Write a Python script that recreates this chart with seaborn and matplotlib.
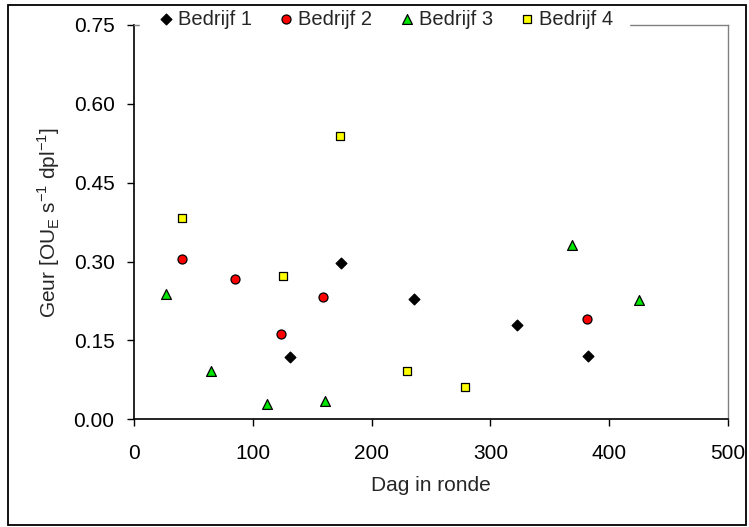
import matplotlib
matplotlib.use("Agg")
import matplotlib.pyplot as plt
from matplotlib.patches import Rectangle
import seaborn as sns
import pandas as pd

# values
dag_b1 = [131, 174, 236, 322, 382]
geur_b1 = [0.118, 0.297, 0.229, 0.179, 0.121]

dag_b2 = [40, 85, 124, 159, 381]
geur_b2 = [0.304, 0.267, 0.163, 0.232, 0.190]

dag_b3 = [27, 65, 112, 161, 369, 425]
geur_b3 = [0.239, 0.091, 0.030, 0.035, 0.332, 0.226]

dag_b4 = [40, 125, 173, 230, 279]
geur_b4 = [0.383, 0.273, 0.538, 0.091, 0.061]

bedrijven = ["Bedrijf 1", "Bedrijf 2", "Bedrijf 3", "Bedrijf 4"]

df = pd.concat([
    pd.DataFrame({"dag": dag_b1, "geur": geur_b1, "bedrijf": bedrijven[0]}),
    pd.DataFrame({"dag": dag_b2, "geur": geur_b2, "bedrijf": bedrijven[1]}),
    pd.DataFrame({"dag": dag_b3, "geur": geur_b3, "bedrijf": bedrijven[2]}),
    pd.DataFrame({"dag": dag_b4, "geur": geur_b4, "bedrijf": bedrijven[3]}),
], ignore_index=True)

sns.set_theme(style="ticks")
plt.rcParams["font.family"] = ["Liberation Sans", "DejaVu Sans"]
plt.rcParams["mathtext.fontset"] = "custom"
plt.rcParams["mathtext.rm"] = "Liberation Sans"

fig = plt.figure(figsize=(7.49, 5.27), dpi=100)
ax = fig.add_axes([0.1789, 0.2044, 0.7931, 0.7482])

palette = {"Bedrijf 1": "black", "Bedrijf 2": "#FF0000",
           "Bedrijf 3": "#00E600", "Bedrijf 4": "#FFFF00"}
markers = {"Bedrijf 1": "D", "Bedrijf 2": "o", "Bedrijf 3": "^", "Bedrijf 4": "s"}
sizes = {"Bedrijf 1": 30, "Bedrijf 2": 42, "Bedrijf 3": 50, "Bedrijf 4": 40}

for b in bedrijven:
    sub = df[df["bedrijf"] == b]
    sns.scatterplot(data=sub, x="dag", y="geur", color=palette[b], marker=markers[b],
                    s=sizes[b], edgecolor="black", linewidth=0.9, ax=ax, label=b,
                    zorder=3)

ax.set_xlim(0, 500)
ax.set_ylim(0, 0.75)
ax.set_xticks([0, 100, 200, 300, 400, 500])
ax.set_yticks([0.0, 0.15, 0.30, 0.45, 0.60, 0.75])
ax.set_yticklabels(["0.00", "0.15", "0.30", "0.45", "0.60", "0.75"])
ax.tick_params(axis="both", direction="out", length=5, width=1, labelsize=15,
               color="black", labelcolor="black")
ax.tick_params(axis="x", pad=12.5)
ax.tick_params(axis="y", pad=9)

ax.set_xlabel("Dag in ronde", fontsize=15, labelpad=10)
ax.set_ylabel(r"Geur [OU$_\mathregular{E}$ s$^{-1}$ dpl$^{-1}$]", fontsize=15, labelpad=8)

for side in ["left", "bottom"]:
    ax.spines[side].set_color("black")
    ax.spines[side].set_linewidth(1.2)
for side in ["top", "right"]:
    ax.spines[side].set_color("#808080")
    ax.spines[side].set_linewidth(1.0)

leg = ax.legend(loc="center", bbox_to_anchor=(0.4217, 1.015), ncol=4, frameon=True,
                fontsize=14.5, handlelength=1.0, handletextpad=0.1,
                columnspacing=1.2, borderpad=0.8, markerscale=1.0)
leg.get_frame().set_facecolor("white")
leg.get_frame().set_edgecolor("white")
leg.get_frame().set_alpha(1)
leg.get_frame().set_boxstyle("square", pad=0)

# outer border around the whole chart
fig.patches.append(Rectangle((8 / 749, 2 / 527), 738 / 749, 520 / 527,
                             transform=fig.transFigure, fill=False,
                             edgecolor="black", linewidth=1.3))

fig.savefig("out.png", dpi=100)
